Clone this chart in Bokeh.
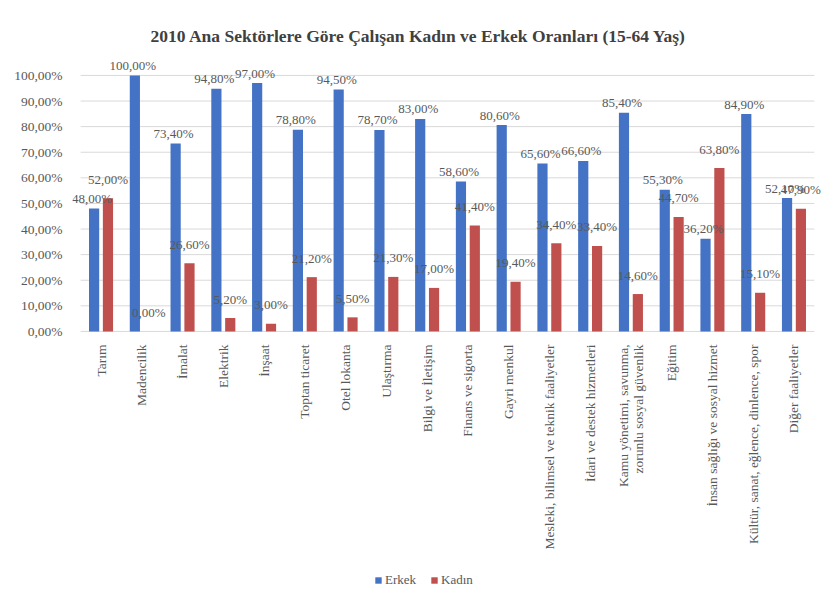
from bokeh.plotting import figure
from bokeh.models import (ColumnDataSource, FactorRange, FixedTicker, Legend, LegendItem,
                          LabelSet)
from bokeh.transform import dodge
from bokeh.embed import file_html
from bokeh.resources import INLINE
from bokeh.core.properties import value
import math

categories = ["Tarım", "Madencilik", "İmalat", "Elektrik", "İnşaat", "Toptan ticaret",
              "Otel lokanta", "Ulaştırma", "Bilgi ve İletişim", "Finans ve sigorta",
              "Gayri menkul", "Mesleki, bilimsel ve teknik faaliyetler",
              "İdari ve destek hizmetleri", "Kamu yönetimi, savunma,\nzorunlu sosyal güvenlik",
              "Eğitim", "İnsan sağlığı ve sosyal hizmet",
              "Kültür, sanat, eğlence, dinlence, spor", "Diğer faaliyetler"]
erkek = [48.0, 100.0, 73.4, 94.8, 97.0, 78.8, 94.5, 78.7, 83.0, 58.6, 80.6, 65.6, 66.6, 85.4, 55.3, 36.2, 84.9, 52.1]
kadin = [52.0, 0.0, 26.6, 5.2, 3.0, 21.2, 5.5, 21.3, 17.0, 41.4, 19.4, 34.4, 33.4, 14.6, 44.7, 63.8, 15.1, 47.9]
y_ticks = [0, 10, 20, 30, 40, 50, 60, 70, 80, 90, 100]

def pct(v):
    return ("%.2f%%" % v).replace(".", ",")

src = ColumnDataSource(dict(
    cat=categories, erkek=erkek, kadin=kadin,
    erkek_lbl=[pct(v) for v in erkek], kadin_lbl=[pct(v) for v in kadin],
    zero=[0] * len(categories),
))
grid_src = ColumnDataSource(dict(
    y=y_ticks, first=[categories[0]] * len(y_ticks), last=[categories[-1]] * len(y_ticks),
))

BLUE = "#4472C4"
RED = "#C0504D"
GRAY = "#595959"
SERIF = "Liberation Serif"

p = figure(x_range=FactorRange(*categories, range_padding=0.2, range_padding_units="absolute"),
           y_range=(-101.2, 107),
           width=822, height=592, output_backend="svg", toolbar_location=None,
           min_border_left=72, min_border_right=0, min_border_top=57, min_border_bottom=2,
           title="2010 Ana Sektörlere Göre Çalışan Kadın ve Erkek Oranları (15-64 Yaş)")
p.title.align = "left"
p.title.offset = 78
p.title.vertical_align = "top"
p.title.standoff = 20
p.title.text_font = SERIF
p.title.text_font_size = "17.5px"
p.title.text_font_style = "bold"
p.title.text_color = "#404040"

p.outline_line_color = None
p.background_fill_color = "white"
p.border_fill_color = "white"

p.xgrid.grid_line_color = None
p.ygrid.grid_line_color = None

# horizontal gridlines spanning the category area only
p.segment(x0=dodge("first", -0.5, range=p.x_range), x1=dodge("last", 0.5, range=p.x_range),
          y0="y", y1="y", source=grid_src, line_color="#d9d9d9", line_width=1)

rb = p.vbar(x=dodge("cat", -0.17, range=p.x_range), top="erkek", width=0.25, source=src,
            fill_color=BLUE, line_color=None)
rr = p.vbar(x=dodge("cat", 0.17, range=p.x_range), top="kadin", width=0.25, source=src,
            fill_color=RED, line_color=None)

p.add_layout(LabelSet(x=dodge("cat", -0.17, range=p.x_range), y="erkek", text="erkek_lbl",
                      source=src, x_offset=-2, y_offset=10, text_align="center",
                      text_baseline="middle", text_font=SERIF, text_font_size="13px",
                      text_color=GRAY))
p.add_layout(LabelSet(x=dodge("cat", 0.17, range=p.x_range), y="kadin", text="kadin_lbl",
                      source=src, x_offset=0, y_offset=19, text_align="center",
                      text_baseline="middle", text_font=SERIF, text_font_size="13px",
                      text_color=GRAY))

# category labels (rotated, reading bottom-to-top, ending just below the axis)
p.text(x="cat", y="zero", text="cat", source=src, angle=math.pi / 2,
       y_offset=13, text_align="right", text_baseline="middle", text_line_height=1.05,
       text_font=value(SERIF), text_font_size="13.5px", text_color=GRAY)

p.yaxis.ticker = FixedTicker(ticks=y_ticks)
p.yaxis.major_label_overrides = {t: pct(t) for t in y_ticks}
p.yaxis.axis_line_color = None
p.yaxis.major_tick_line_color = None
p.yaxis.minor_tick_line_color = None
p.yaxis.major_label_text_font = SERIF
p.yaxis.major_label_text_font_size = "13.5px"
p.yaxis.major_label_text_color = GRAY
p.yaxis.major_label_standoff = 4

p.xaxis.visible = False

legend = Legend(items=[LegendItem(label="Erkek", renderers=[rb]),
                       LegendItem(label="Kadın", renderers=[rr])],
                orientation="horizontal", location=(302, 2),
                border_line_color=None, background_fill_alpha=0,
                glyph_width=8, glyph_height=8, label_standoff=3, spacing=14,
                label_text_font=SERIF, label_text_font_size="13px", label_text_color=GRAY,
                padding=4, margin=0)
p.add_layout(legend, "center")

open("out.html", "w").write(file_html(p, INLINE))
